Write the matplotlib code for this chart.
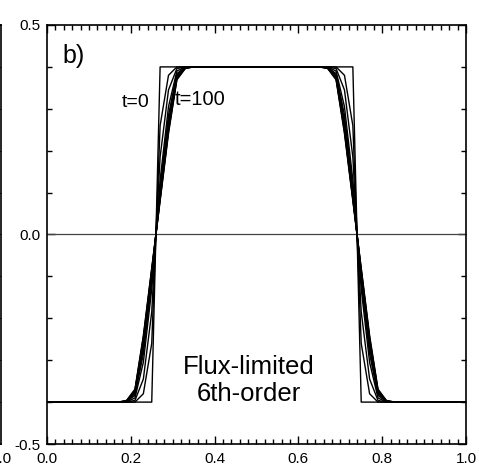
import numpy as np
import matplotlib
matplotlib.use('Agg')
import matplotlib.pyplot as plt
from matplotlib.ticker import MultipleLocator

plt.rcParams['font.family'] = ['Liberation Sans', 'DejaVu Sans']

# cell centres of the grid
x_cells = np.linspace(0.01, 0.99, 50)

# edge profiles at x = 0.19, 0.21, ..., 0.33 (left edge); right edge is the mirror
times = [0, 10, 20, 30, 40, 50, 60, 70, 80, 90, 100]
edge_profiles = [
    [-0.400, -0.400, -0.400, -0.400, 0.400, 0.400, 0.400, 0.400],
    [-0.400, -0.400, -0.380, -0.260, 0.260, 0.380, 0.400, 0.400],
    [-0.400, -0.396, -0.345, -0.185, 0.185, 0.345, 0.396, 0.400],
    [-0.400, -0.390, -0.305, -0.130, 0.130, 0.305, 0.390, 0.400],
    [-0.399, -0.384, -0.285, -0.112, 0.112, 0.285, 0.384, 0.399],
    [-0.399, -0.380, -0.272, -0.102, 0.102, 0.272, 0.380, 0.399],
    [-0.398, -0.377, -0.263, -0.095, 0.095, 0.263, 0.377, 0.398],
    [-0.398, -0.375, -0.256, -0.090, 0.090, 0.256, 0.375, 0.398],
    [-0.397, -0.373, -0.250, -0.086, 0.086, 0.250, 0.373, 0.397],
    [-0.397, -0.371, -0.245, -0.083, 0.083, 0.245, 0.371, 0.397],
    [-0.396, -0.369, -0.241, -0.080, 0.080, 0.241, 0.369, 0.396],
]
low_level = -0.4
high_level = 0.4

fig = plt.figure(figsize=(4.79, 4.69), dpi=100)

# fragment of the neighbouring panel a)
axl = fig.add_axes([-0.9, 0.0533, 0.9031, 0.8934])
axl.set_xlim(0, 1)
axl.set_ylim(-0.5, 0.5)
axl.set_xticks([1.0])
axl.set_xticklabels(['1.0'], fontsize=11)
axl.set_yticks([])
axl.yaxis.set_minor_locator(MultipleLocator(0.1))
axl.tick_params(which='both', direction='in', right=True, left=False, length=5)
axl.tick_params(axis='x', length=0, pad=6)
for s in axl.spines.values():
    s.set_linewidth(1.2)

ax = fig.add_axes([0.0981, 0.0533, 0.8747, 0.8934])
ax.axhline(0.0, color='#444444', linewidth=0.9)

for prof in edge_profiles:
    y = [low_level] * 9 + prof + [high_level] * 16 + prof[::-1] + [low_level] * 9
    xx = np.concatenate([[0.0], x_cells, [1.0]])
    yy = np.concatenate([[low_level], y, [low_level]])
    ax.plot(xx, yy, color='black', linewidth=1.0)

ax.set_xlim(0, 1)
ax.set_ylim(-0.5, 0.5)
ax.set_xticks([0.0, 0.2, 0.4, 0.6, 0.8, 1.0])
ax.set_xticklabels(['0.0', '0.2', '0.4', '0.6', '0.8', '1.0'], fontsize=11)
ax.set_yticks([-0.5, 0.0, 0.5])
ax.set_yticklabels(['-0.5', '0.0', '0.5'], fontsize=11)
ax.xaxis.set_minor_locator(MultipleLocator(0.02))
ax.yaxis.set_minor_locator(MultipleLocator(0.1))
ax.tick_params(which='both', direction='in', top=True, right=True)
ax.tick_params(which='major', length=6, width=1.0)
ax.tick_params(which='minor', length=3.5, width=1.0)
ax.tick_params(axis='x', pad=6)
ax.tick_params(axis='y', pad=5)
for s in ax.spines.values():
    s.set_linewidth(1.2)

ax.text(0.038, 0.409, 'b)', fontsize=18)
ax.text(0.179, 0.304, 't=0', fontsize=14)
ax.text(0.305, 0.309, 't=100', fontsize=14.5)
ax.text(0.481, -0.333, 'Flux-limited', fontsize=18.5, ha='center', va='baseline')
ax.text(0.481, -0.398, '6th-order', fontsize=18.5, ha='center', va='baseline')

fig.savefig('out.png', dpi=100)
